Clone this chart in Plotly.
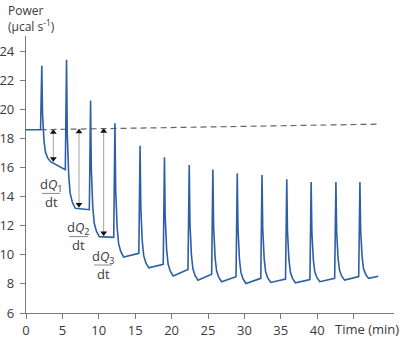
import plotly.graph_objects as go

# ITC thermogram: injection start times (min), spike tops, settled trough
# values and values just before the following injection (µcal/s)
inject_t = [2.0, 5.4, 8.7, 12.05, 15.5, 18.85, 22.25, 25.5, 28.85, 32.25, 35.65, 39.0, 42.4, 45.7]
peak_p = [23.0, 23.4, 20.6, 19.05, 17.5, 16.7, 16.17, 15.87, 15.6, 15.48, 15.2, 15.0, 15.0, 15.0]
settle_p = [16.4, 13.2, 11.25, 9.85, 9.1, 8.55, 8.26, 8.15, 8.03, 8.1, 8.08, 8.15, 8.26, 8.38]
end_p = [15.85, 13.1, 11.2, 10.1, 9.35, 9.0, 8.67, 8.5, 8.38, 8.33, 8.3, 8.38, 8.5, 8.53]
baseline_p = 18.6
run_end_t = 48.4

# shape of each spike after its top: minutes after peak, share of the drop still left
decay_dt = [0.1, 0.3, 0.5, 0.8, 1.2]
decay_left = [0.5, 0.22, 0.1, 0.04, 0.0]
rise_dt = 0.17

# extrapolated pre-titration baseline (dashed)
base_line_t = [2.0, 48.4]
base_line_p = [18.6, 18.98]

# heat-flow arrows dQ/dt for the first three injections
arrow_t = [3.75, 7.28, 10.67]
arrow_top = [18.63, 18.66, 18.69]
arrow_bottom = [16.4, 13.25, 11.3]

# fraction labels: centre time, numerator / rule / denominator levels, rule half-width
frac_sub = ["1", "2", "3"]
frac_t = [3.45, 7.2, 10.6]
frac_num = [14.8, 11.85, 9.85]
frac_rule = [14.22, 11.25, 9.3]
frac_den = [13.62, 10.68, 8.7]
frac_half = [1.25, 1.3, 1.25]

x_ticks = [0, 5, 10, 15, 20, 25, 30, 35, 40, 45]
x_labels = ["0", "5", "10", "15", "20", "25", "30", "35", "40", ""]
y_ticks = [6, 8, 10, 12, 14, 16, 18, 20, 22, 24]

BLUE = "#2d5fa6"
AXIS = "#7a7a7a"
TEXT = "#3a3a3a"
FONT = "Open Sans"

# build the power trace
t = [0.0]
p = [baseline_p]
prev = baseline_p
for i, t0 in enumerate(inject_t):
    t.append(t0)
    p.append(prev)
    tp = t0 + rise_dt
    t.append(tp)
    p.append(peak_p[i])
    drop = peak_p[i] - settle_p[i]
    for d, f in zip(decay_dt, decay_left):
        t.append(tp + d)
        p.append(settle_p[i] + f * drop)
    t_next = inject_t[i + 1] if i + 1 < len(inject_t) else run_end_t
    t.append(t_next)
    p.append(end_p[i])
    prev = end_p[i]

fig = go.Figure()

fig.add_trace(go.Scatter(
    x=base_line_t, y=base_line_p, mode="lines",
    line=dict(color="#666666", width=1.2, dash="6px,4px"),
    hoverinfo="skip", showlegend=False,
))

fig.add_trace(go.Scatter(
    x=t, y=p, mode="lines",
    line=dict(color=BLUE, width=1.6),
    showlegend=False,
))

# arrow shafts
for xa, yt, yb in zip(arrow_t, arrow_top, arrow_bottom):
    fig.add_trace(go.Scatter(
        x=[xa, xa], y=[yt, yb], mode="lines",
        line=dict(color="#a0a0a0", width=1),
        hoverinfo="skip", showlegend=False,
    ))

# arrow heads
fig.add_trace(go.Scatter(
    x=arrow_t, y=[v - 0.2 for v in arrow_top], mode="markers",
    marker=dict(symbol="triangle-up", size=6, color="#111111"),
    hoverinfo="skip", showlegend=False,
))
fig.add_trace(go.Scatter(
    x=arrow_t, y=[v + 0.2 for v in arrow_bottom], mode="markers",
    marker=dict(symbol="triangle-down", size=6, color="#111111"),
    hoverinfo="skip", showlegend=False,
))

annotations = []
shapes = []
for s, xc, yn, yr, yd, hw in zip(frac_sub, frac_t, frac_num, frac_rule, frac_den, frac_half):
    annotations.append(dict(
        x=xc, y=yn, xref="x", yref="y", showarrow=False,
        text=f"d<i>Q</i><sub>{s}</sub>",
        font=dict(family=FONT, size=13, color=TEXT),
    ))
    annotations.append(dict(
        x=xc, y=yd, xref="x", yref="y", showarrow=False,
        text="dt",
        font=dict(family=FONT, size=13, color=TEXT),
    ))
    shapes.append(dict(
        type="line", xref="x", yref="y",
        x0=xc - hw, x1=xc + hw, y0=yr, y1=yr,
        line=dict(color="#8a8a8a", width=1),
    ))

annotations.append(dict(
    x=-0.054, y=1.13, xref="paper", yref="paper",
    xanchor="left", yanchor="top", align="left", showarrow=False,
    text="Power<br>(µcal s<sup>-1</sup>)",
    font=dict(family=FONT, size=12, color=TEXT),
))
annotations.append(dict(
    x=46.9, y=-0.058, xref="x", yref="paper",
    xanchor="center", yanchor="middle", showarrow=False,
    text="Time (min)",
    font=dict(family=FONT, size=13, color=TEXT),
))

fig.update_layout(
    width=400, height=338,
    margin=dict(l=26, r=6, t=36, b=25),
    paper_bgcolor="white", plot_bgcolor="white",
    annotations=annotations, shapes=shapes,
    font=dict(family=FONT, size=13, color=TEXT),
)
fig.update_xaxes(
    range=[0, 50.55], tickvals=x_ticks, ticktext=x_labels,
    showline=True, linecolor=AXIS, linewidth=1.3,
    ticks="outside", ticklen=5, tickcolor=AXIS, tickwidth=1.3,
    showgrid=False, zeroline=False, automargin=False,
    tickfont=dict(family=FONT, size=13, color=TEXT),
)
fig.update_yaxes(
    range=[6, 25.04], tickvals=y_ticks,
    showline=True, linecolor=AXIS, linewidth=1.3,
    ticks="outside", ticklen=5, tickcolor=AXIS, tickwidth=1.3,
    showgrid=False, zeroline=False, automargin=False, ticklabelstandoff=3,
    tickfont=dict(family=FONT, size=13, color=TEXT),
)

fig.write_html("out.html")
